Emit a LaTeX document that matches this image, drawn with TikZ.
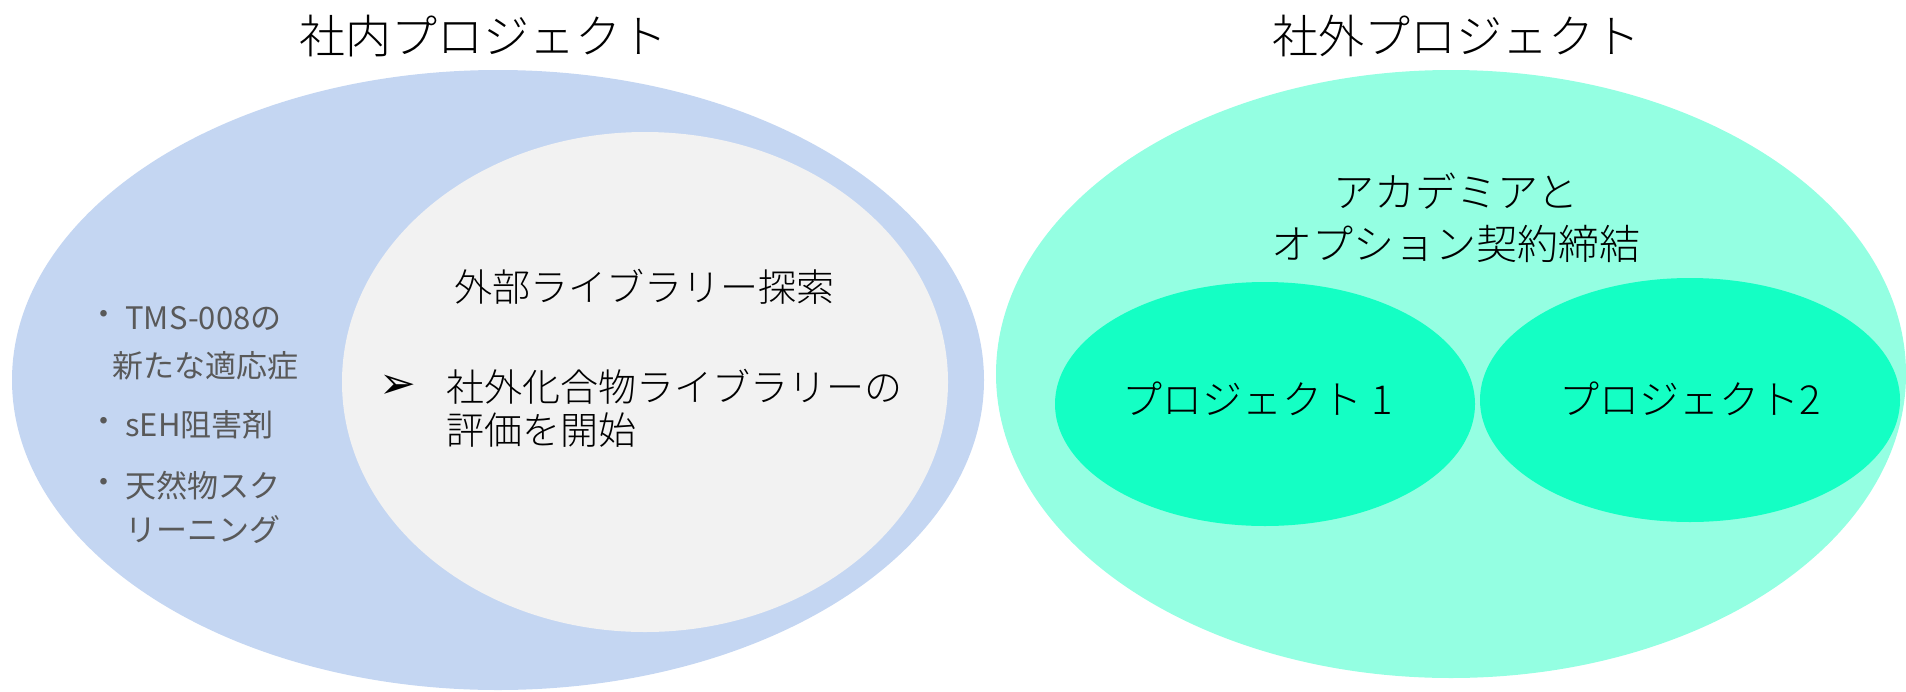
\documentclass[tikz,border=0pt]{standalone}
\usepackage{fontspec}
\setmainfont{Noto Sans CJK JP}[UprightFont={* Light}]
\newfontfamily\listfont{Noto Sans CJK JP}
\newfontfamily\dejavu{DejaVu Sans}
\usetikzlibrary{shapes.geometric}
\definecolor{bluebig}{HTML}{C4D6F2}
\definecolor{grayin}{HTML}{F2F2F2}
\definecolor{aquabig}{HTML}{94FFE2}
\definecolor{aquasmall}{HTML}{14FFC4}
\definecolor{graytext}{HTML}{595959}
\tikzset{
  blob/.style={ellipse, inner sep=0pt, outer sep=0pt, draw=none},
  titletext/.style={font=\fontsize{23pt}{28pt}\selectfont, text=black, inner sep=0pt},
  midtext/.style={font=\fontsize{19pt}{23pt}\selectfont, text=black, inner sep=0pt},
  listtext/.style={font=\listfont\fontsize{15.5pt}{18pt}\selectfont, text=graytext, inner sep=0pt, anchor=west},
}
\begin{document}
\begin{tikzpicture}[x=0.5pt,y=-0.5pt]
\useasboundingbox (0,0) rectangle (1906,691);
% shapes
\node[blob, fill=bluebig, minimum width=486pt, minimum height=310pt] (inhouse) at (498,380) {};
\node[blob, fill=grayin, minimum width=303pt, minimum height=250pt] (extlib) at (645,382) {};
\node[blob, fill=aquabig, minimum width=455pt, minimum height=304pt] (outside) at (1451,374) {};
\node[blob, fill=aquasmall, minimum width=210pt, minimum height=122pt] (p1) at (1265,404) {};
\node[blob, fill=aquasmall, minimum width=210pt, minimum height=122pt] (p2) at (1690,400) {};
% titles
\node[titletext] (t1) at (483,36) {社内プロジェクト};
\node[titletext] (t2) at (1456,36) {社外プロジェクト};
% inner gray
\node[midtext] (libtitle) at (644,287) {外部ライブラリー探索};
\node[midtext, anchor=center] (arrowbullet) at (398,387) {\dejavu\fontsize{22pt}{24pt}\selectfont ➢};
\node[midtext, anchor=west] (lib1) at (446,387) {社外化合物ライブラリーの};
\node[midtext, anchor=west] (lib2) at (446,430) {評価を開始};
% right
\node[font=\fontsize{20.5pt}{25pt}\selectfont, inner sep=0pt] (acad1) at (1456,191) {アカデミアと};
\node[font=\fontsize{20.5pt}{25pt}\selectfont, inner sep=0pt] (acad2) at (1456,244) {オプション契約締結};
\node[midtext, font=\fontsize{20pt}{24pt}\selectfont] (p1t) at (1258,399) {プロジェクト 1};
\node[midtext, font=\fontsize{20pt}{24pt}\selectfont] (p2t) at (1690,399) {プロジェクト2};
% left list
\node[listtext] (b1) at (88,318) {・};
\node[listtext] (l1) at (125,318) {TMS-008の};
\node[listtext] (l1b) at (112,366) {新たな適応症};
\node[listtext] (b2) at (88,425) {・};
\node[listtext] (l2) at (125,425) {sEH阻害剤};
\node[listtext] (b3) at (88,486) {・};
\node[listtext] (l3) at (125,486) {天然物スク};
\node[listtext] (l3b) at (125,530) {リーニング};
\end{tikzpicture}
\end{document}
